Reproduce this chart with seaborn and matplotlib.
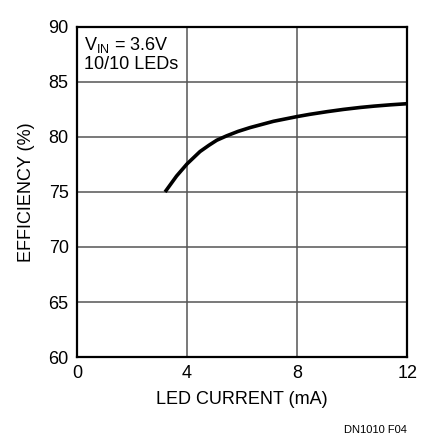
import matplotlib
matplotlib.use("Agg")
import matplotlib.pyplot as plt
import seaborn as sns
import pandas as pd

# Datos
corriente = [3.2, 3.62, 4.0, 4.47, 4.8, 5.08, 5.44, 5.85, 6.29, 7.14, 8.0, 8.45, 9.1, 9.68, 10.3, 10.8, 11.4, 12.0]
eficiencia = [75.0, 76.45, 77.55, 78.67, 79.25, 79.7, 80.1, 80.5, 80.85, 81.42, 81.85, 82.05, 82.3, 82.5, 82.68, 82.8, 82.92, 83.02]

x_ticks = [0, 4, 8, 12]
y_ticks = [60, 65, 70, 75, 80, 85, 90]

df = pd.DataFrame({"corriente": corriente, "eficiencia": eficiencia})

sns.set_style("white")
plt.rcParams["font.family"] = ["Liberation Sans", "DejaVu Sans"]
plt.rcParams["mathtext.fontset"] = "custom"
plt.rcParams["mathtext.rm"] = "Liberation Sans"
plt.rcParams["text.color"] = "black"
plt.rcParams["axes.labelcolor"] = "black"
plt.rcParams["xtick.color"] = "black"
plt.rcParams["ytick.color"] = "black"

fig = plt.figure(figsize=(4.35, 4.48), dpi=100)
ax = fig.add_axes([0.177, 0.203, 0.759, 0.737])

sns.lineplot(x="corriente", y="eficiencia", data=df, ax=ax, color="black",
             linewidth=2.6, solid_joinstyle="round", solid_capstyle="butt")

ax.set_xlim(0, 12)
ax.set_ylim(60, 90)
ax.set_xticks(x_ticks)
ax.set_yticks(y_ticks)
ax.tick_params(length=0, labelsize=13, pad=6)
ax.grid(True, color="#555555", linewidth=1.1)
for s in ax.spines.values():
    s.set_color("black")
    s.set_linewidth(1.6)

ax.set_xlabel("LED CURRENT (mA)", fontsize=13, labelpad=6)
ax.set_ylabel("EFFICIENCY (%)", fontsize=13, labelpad=10)

ax.text(0.02, 0.975, r"V$_{\mathregular{IN}}$ = 3.6V" + "\n10/10 LEDs",
        transform=ax.transAxes, fontsize=13, va="top", ha="left", linespacing=1.1)

fig.text(0.935, 0.03, "DN1010 F04", fontsize=8, ha="right", va="bottom")

fig.savefig("out.png", dpi=100)
